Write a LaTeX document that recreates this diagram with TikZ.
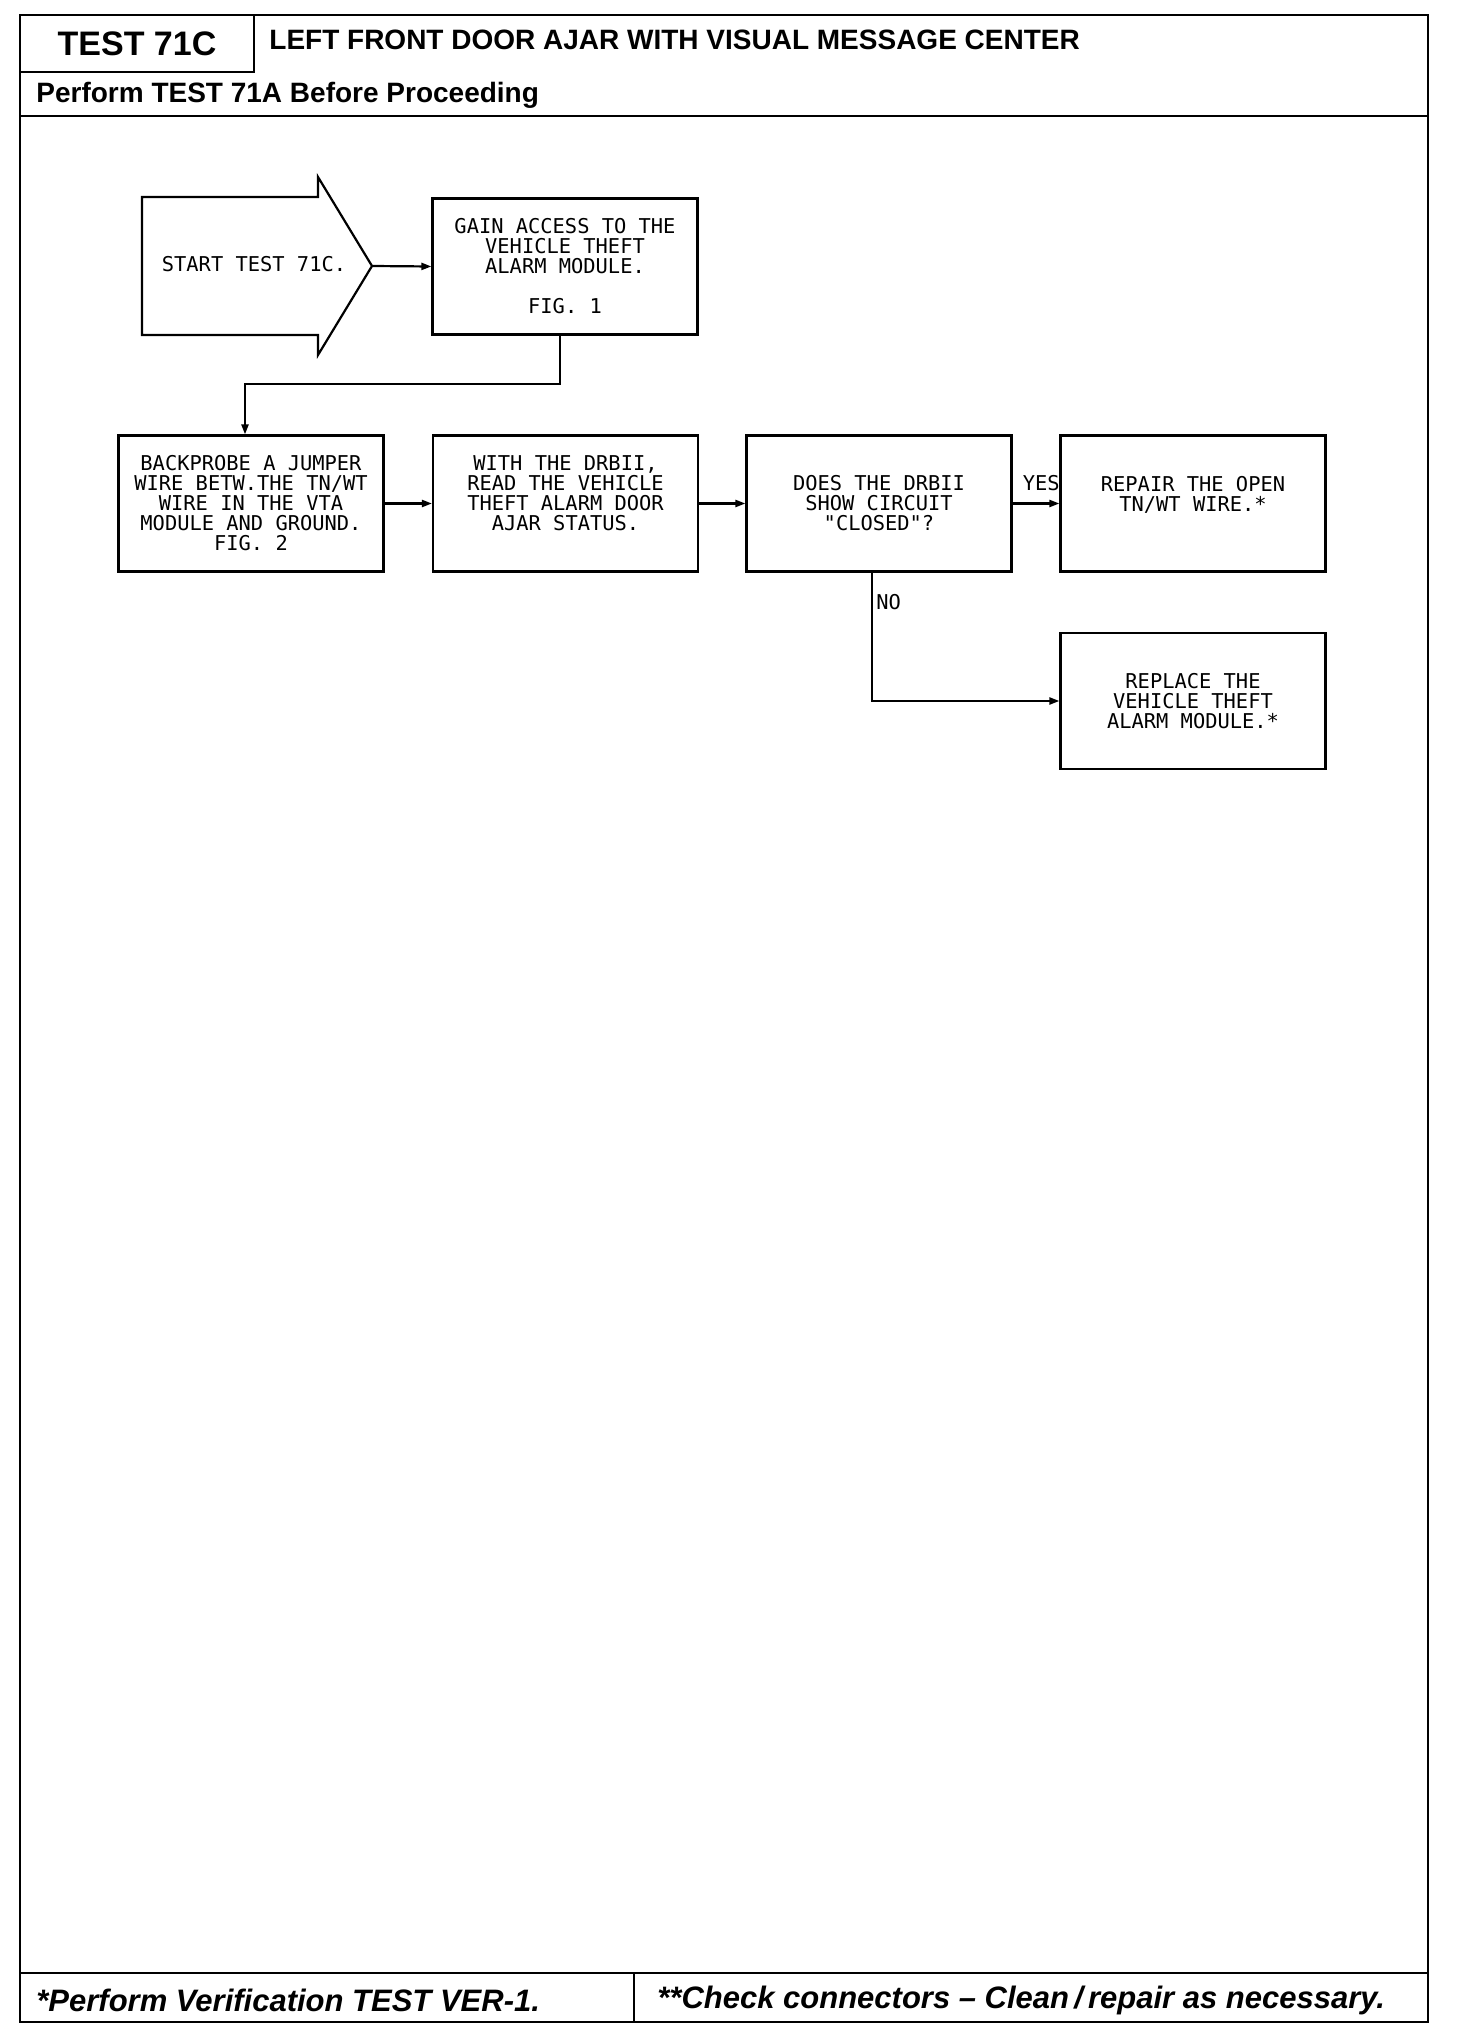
\documentclass[tikz,border=0pt]{standalone}
\usepackage{fontspec}
\setmainfont{Liberation Sans}
\newfontfamily\plotfont{DejaVu Sans Mono}
\usetikzlibrary{arrows.meta}
\begin{document}
\begin{tikzpicture}[x=0.5pt,y=-0.5pt,
  frame/.style={line width=1.1pt},
  box/.style={draw,line width=1.1pt,minimum width=132.5pt,minimum height=68pt,inner sep=0pt,
    font=\plotfont\fontsize{10.2}{10}\selectfont,align=center},
  conn/.style={line width=1.1pt,-{Triangle[length=5pt,width=3.5pt]}},
  lbl/.style={font=\plotfont\fontsize{10.2}{10}\selectfont,inner sep=0pt},
  head/.style={font=\bfseries\fontsize{14}{16}\selectfont,inner sep=0pt},
  foot/.style={font=\bfseries\itshape\fontsize{15.5}{18}\selectfont,inner sep=0pt}
]
\fill[white] (0,0) rectangle (1456,2038);
\useasboundingbox (0,0) rectangle (1456,2038);
% frame
\draw[frame] (20,15) rectangle (1428,2022);
\draw[frame] (254,15) -- (254,72) -- (20,72);
\draw[frame] (20,116) -- (1428,116);
\draw[frame] (20,1973) -- (1428,1973);
\draw[frame] (634,1973) -- (634,2022);
% header texts
\node[font=\bfseries\fontsize{17}{19}\selectfont,inner sep=0pt] (testno) at (137,44) {TEST 71C};
\node[head,anchor=west] (title) at (269,40) {LEFT FRONT DOOR AJAR WITH VISUAL MESSAGE CENTER};
\node[head,anchor=west] (pre) at (36,95) {Perform TEST 71A Before Proceeding};
% footer texts
\node[foot,anchor=west] (f1) at (36,2000) {*Perform Verification TEST VER-1.};
\node[foot,anchor=west] (f2) at (657,2000) {**Check connectors -- Clean\,/\,repair as necessary.};
% start arrow
\draw[line width=1.1pt] (142,197) -- (318,197) -- (318,177) -- (372,266) -- (318,355) -- (318,335) -- (142,335) -- cycle;
\coordinate (tip) at (372,266);
\node[lbl] (start) at (254,264) {START TEST 71C.};
% boxes
\node[box] (gain) at (565,266.5) {GAIN ACCESS TO THE\\VEHICLE THEFT\\ALARM MODULE.\\[10pt]FIG. 1};
\node[box] (back) at (251,503.5) {BACKPROBE A JUMPER\\WIRE BETW.THE TN/WT\\WIRE IN THE VTA\\MODULE AND GROUND.\\FIG. 2};
\node[box] (with) at (565.5,503.5) {WITH THE DRBII,\\READ THE VEHICLE\\THEFT ALARM DOOR\\AJAR STATUS.\\\mbox{}};
\node[box] (does) at (879,503.5) {DOES THE DRBII\\SHOW CIRCUIT\\"CLOSED"?};
\node[box] (repair) at (1193,503.5) {REPAIR THE OPEN\\TN/WT WIRE.*\\\mbox{}};
\node[box] (replace) at (1193,701) {REPLACE THE\\VEHICLE THEFT\\ALARM MODULE.*};
% connectors
\draw[conn] (tip) -- (gain.west);
\draw[conn] ([xshift=-2.5pt]gain.south) -- ++(0,48) -| ([xshift=-3pt]back.north);
\draw[conn] (back) -- (with);
\draw[conn] (with) -- (does);
\draw[conn] (does) -- (repair);
\draw[conn] ([xshift=-3.5pt]does.south) |- (replace.west);
\node[lbl,anchor=east] (yes) at (1060,483) {YES};
\node[lbl,anchor=west] (no) at (876,602) {NO};
\end{tikzpicture}
\end{document}
